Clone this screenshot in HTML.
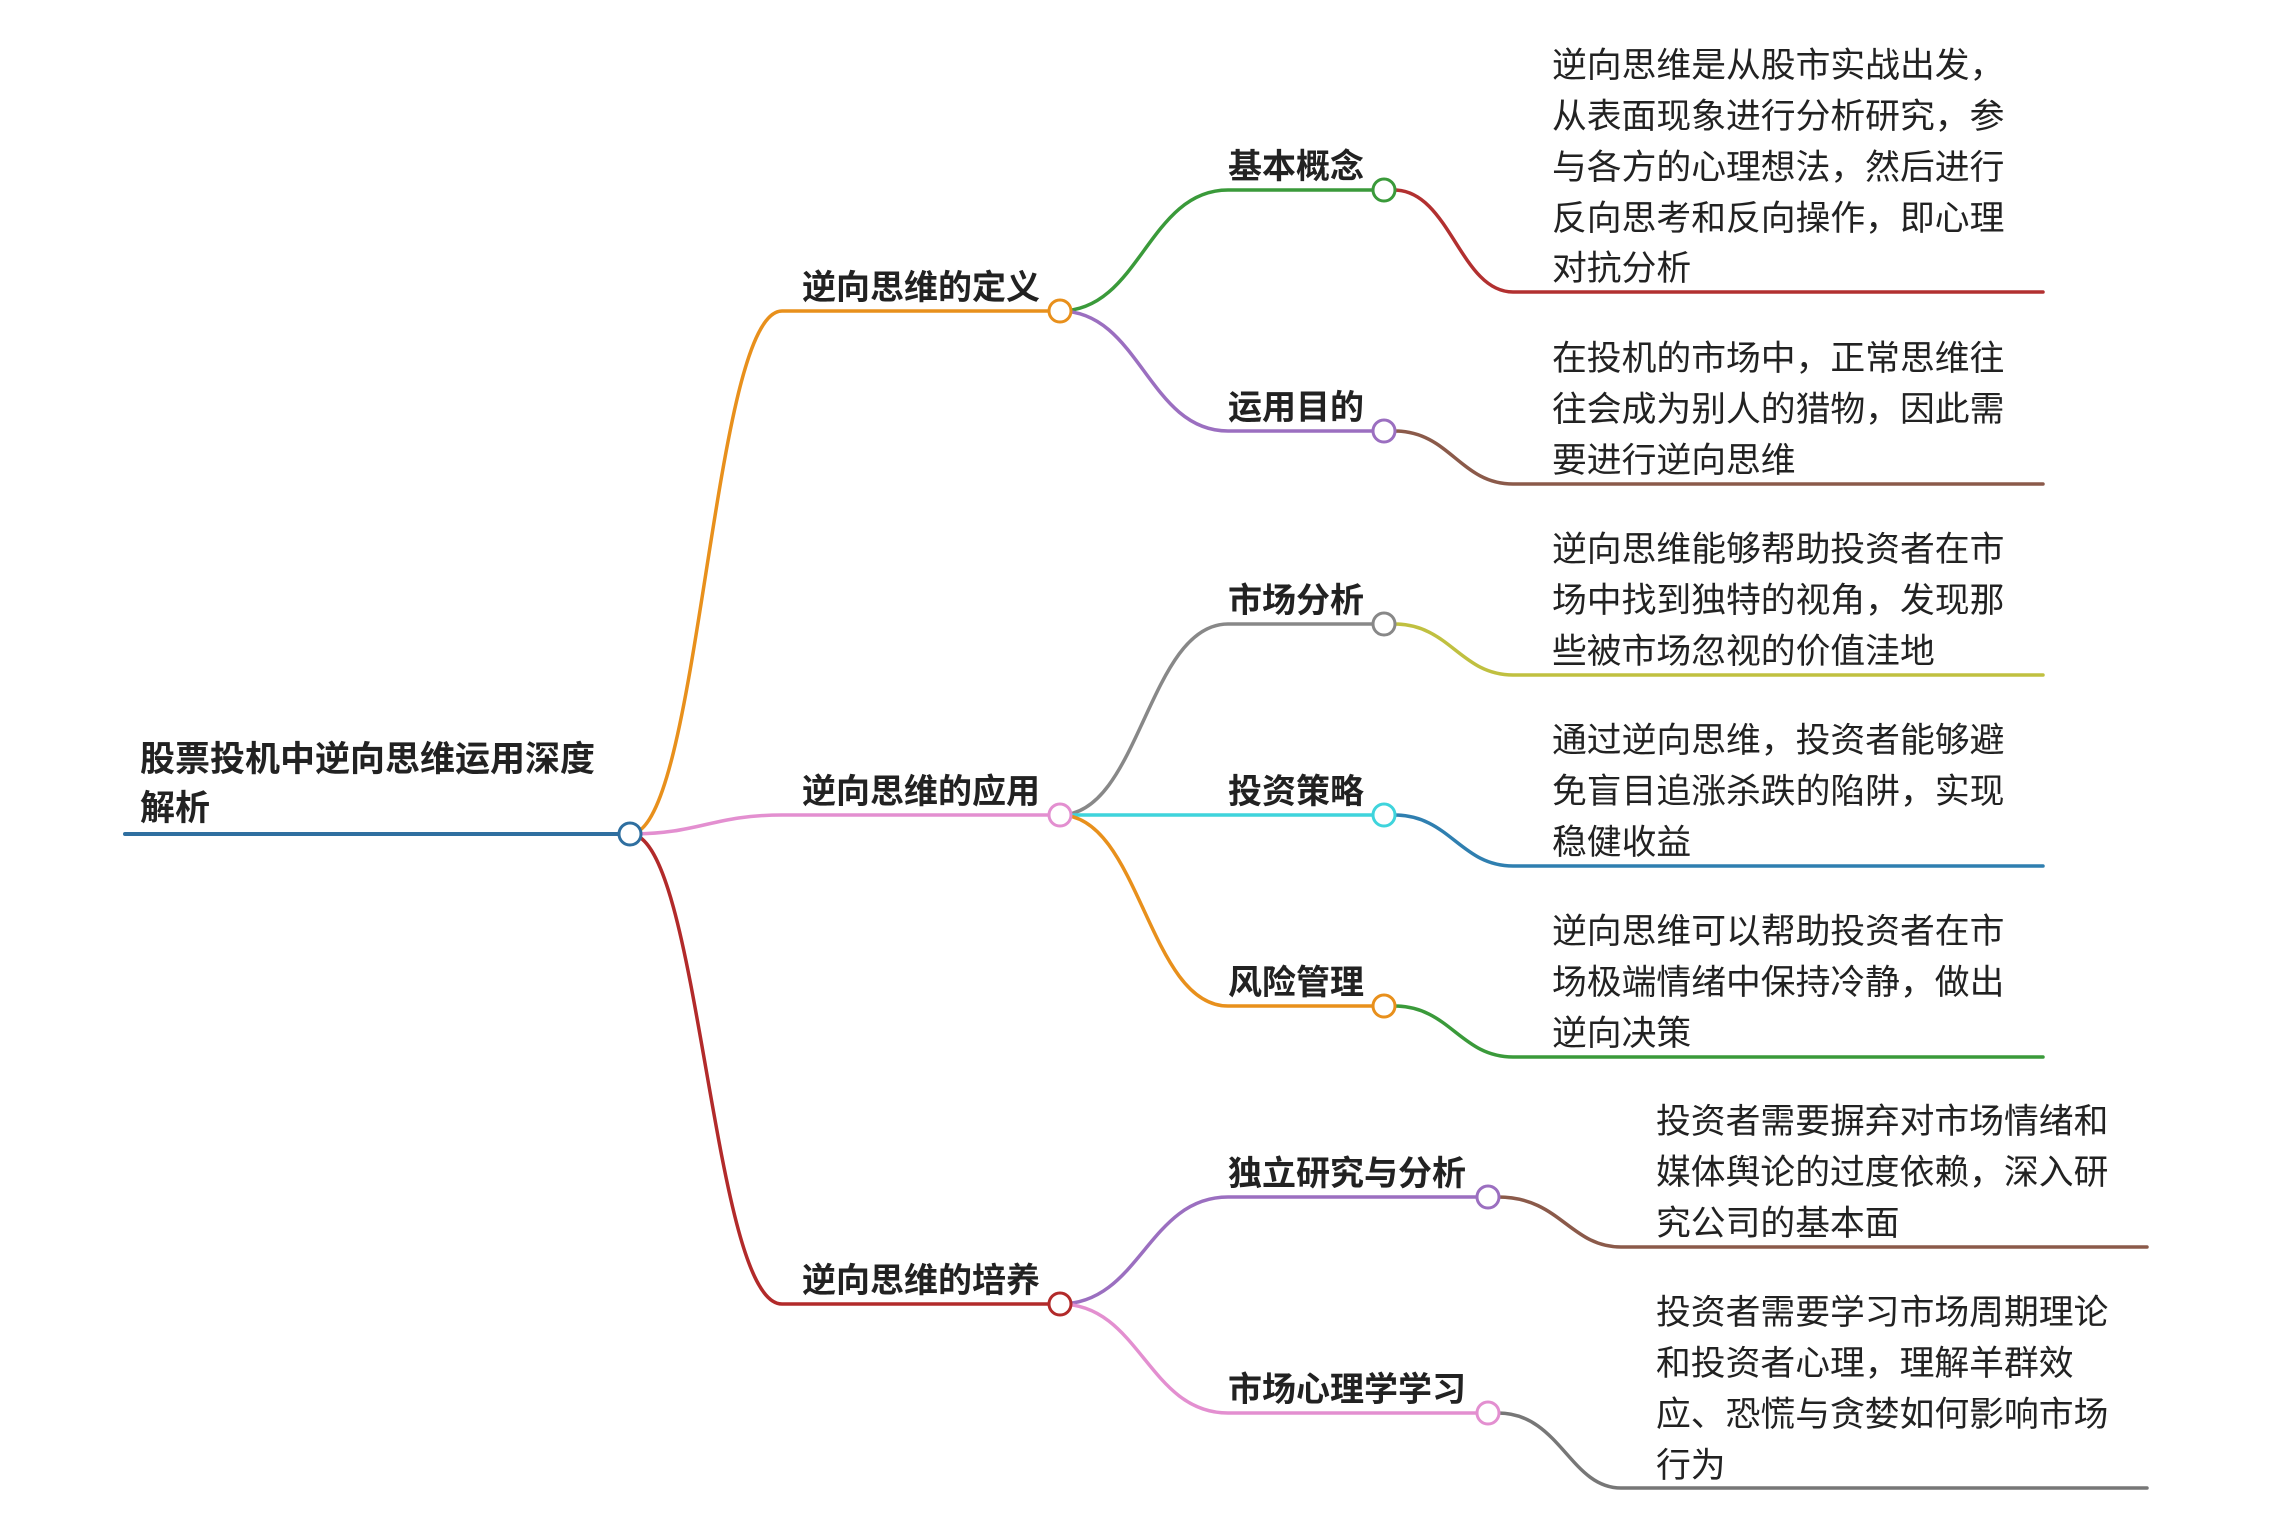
<!DOCTYPE html>
<html><head><meta charset="utf-8"><style>
html,body{margin:0;padding:0;background:#fff;}
svg{display:block}
text{font-family:"Liberation Sans","Noto Sans CJK SC",sans-serif;fill:#222;}
.b{font-weight:bold;font-size:34px;}
.r{font-weight:bold;font-size:35px;}
.t{font-size:34.8px;}
</style></head><body>
<svg width="2270" height="1523" viewBox="0 0 2270 1523" xmlns="http://www.w3.org/2000/svg">
<g fill="none" stroke-width="3.5" stroke-linecap="round">
<path d="M125 834 H620" stroke="#2f6fa0" stroke-width="4"/>
<path d="M630 834 C700 834,712 311,782 311 H1050" stroke="#e8901c"/>
<path d="M630 834 C700 834,712 815,782 815 H1050" stroke="#e38fd0"/>
<path d="M630 834 C700 834,712 1304,782 1304 H1050" stroke="#b22a2a"/>
<path d="M1060 311 C1140 311,1148 190,1228 190 H1374" stroke="#3a9a3a"/>
<path d="M1060 311 C1140 311,1148 431,1228 431 H1374" stroke="#9b6fc0"/>
<path d="M1060 815 C1140 815,1148 624,1228 624 H1374" stroke="#888"/>
<path d="M1070 815 H1374" stroke="#3fd4dc"/>
<path d="M1060 815 C1140 815,1148 1006,1228 1006 H1374" stroke="#e8901c"/>
<path d="M1060 1304 C1140 1304,1148 1197,1228 1197 H1478" stroke="#9b6fc0"/>
<path d="M1060 1304 C1140 1304,1148 1413,1228 1413 H1478" stroke="#e38fd0"/>
<path d="M1394 190 C1450 190,1460 292,1513 292 H2043" stroke="#b23030"/>
<path d="M1394 431 C1450 431,1460 484,1513 484 H2043" stroke="#8b5a4a"/>
<path d="M1394 624 C1450 624,1460 675,1513 675 H2043" stroke="#c0c040"/>
<path d="M1394 815 C1450 815,1460 866,1513 866 H2043" stroke="#2f7fb0"/>
<path d="M1394 1006 C1450 1006,1460 1057,1513 1057 H2043" stroke="#3a9a3a"/>
<path d="M1498 1197 C1560 1197,1570 1247,1621 1247 H2147" stroke="#8b5a4a"/>
<path d="M1498 1413 C1560 1413,1570 1488,1621 1488 H2147" stroke="#777"/>
</g>
<g fill="#fff" stroke-width="3">
<circle cx="630" cy="834" r="11" stroke="#2f6fa0"/>
<circle cx="1060" cy="311" r="11" stroke="#e8901c"/>
<circle cx="1060" cy="815" r="11" stroke="#e38fd0"/>
<circle cx="1060" cy="1304" r="11" stroke="#b22a2a"/>
<circle cx="1384" cy="190" r="11" stroke="#3a9a3a"/>
<circle cx="1384" cy="431" r="11" stroke="#9b6fc0"/>
<circle cx="1384" cy="624" r="11" stroke="#888"/>
<circle cx="1384" cy="815" r="11" stroke="#3fd4dc"/>
<circle cx="1384" cy="1006" r="11" stroke="#e8901c"/>
<circle cx="1488" cy="1197" r="11" stroke="#9b6fc0"/>
<circle cx="1488" cy="1413" r="11" stroke="#e38fd0"/>
</g>
<text class="r" x="140" y="771">股票投机中逆向思维运用深度</text>
<text class="r" x="140" y="820">解析</text>
<text class="b" x="1040" y="299" text-anchor="end">逆向思维的定义</text>
<text class="b" x="1040" y="803" text-anchor="end">逆向思维的应用</text>
<text class="b" x="1040" y="1292" text-anchor="end">逆向思维的培养</text>
<text class="b" x="1228" y="178">基本概念</text>
<text class="b" x="1228" y="419">运用目的</text>
<text class="b" x="1228" y="612">市场分析</text>
<text class="b" x="1228" y="803">投资策略</text>
<text class="b" x="1228" y="994">风险管理</text>
<text class="b" x="1228" y="1185">独立研究与分析</text>
<text class="b" x="1228" y="1401">市场心理学学习</text>
<text class="t" x="1552" y="77">逆向思维是从股市实战出发，</text>
<text class="t" x="1552" y="128">从表面现象进行分析研究，参</text>
<text class="t" x="1552" y="179">与各方的心理想法，然后进行</text>
<text class="t" x="1552" y="230">反向思考和反向操作，即心理</text>
<text class="t" x="1552" y="280">对抗分析</text>
<text class="t" x="1552" y="370">在投机的市场中，正常思维往</text>
<text class="t" x="1552" y="421">往会成为别人的猎物，因此需</text>
<text class="t" x="1552" y="472">要进行逆向思维</text>
<text class="t" x="1552" y="561">逆向思维能够帮助投资者在市</text>
<text class="t" x="1552" y="612">场中找到独特的视角，发现那</text>
<text class="t" x="1552" y="663">些被市场忽视的价值洼地</text>
<text class="t" x="1552" y="752">通过逆向思维，投资者能够避</text>
<text class="t" x="1552" y="803">免盲目追涨杀跌的陷阱，实现</text>
<text class="t" x="1552" y="854">稳健收益</text>
<text class="t" x="1552" y="943">逆向思维可以帮助投资者在市</text>
<text class="t" x="1552" y="994">场极端情绪中保持冷静，做出</text>
<text class="t" x="1552" y="1045">逆向决策</text>
<text class="t" x="1656" y="1133">投资者需要摒弃对市场情绪和</text>
<text class="t" x="1656" y="1184">媒体舆论的过度依赖，深入研</text>
<text class="t" x="1656" y="1235">究公司的基本面</text>
<text class="t" x="1656" y="1324">投资者需要学习市场周期理论</text>
<text class="t" x="1656" y="1375">和投资者心理，理解羊群效</text>
<text class="t" x="1656" y="1426">应、恐慌与贪婪如何影响市场</text>
<text class="t" x="1656" y="1477">行为</text>
</svg>
</body></html>
